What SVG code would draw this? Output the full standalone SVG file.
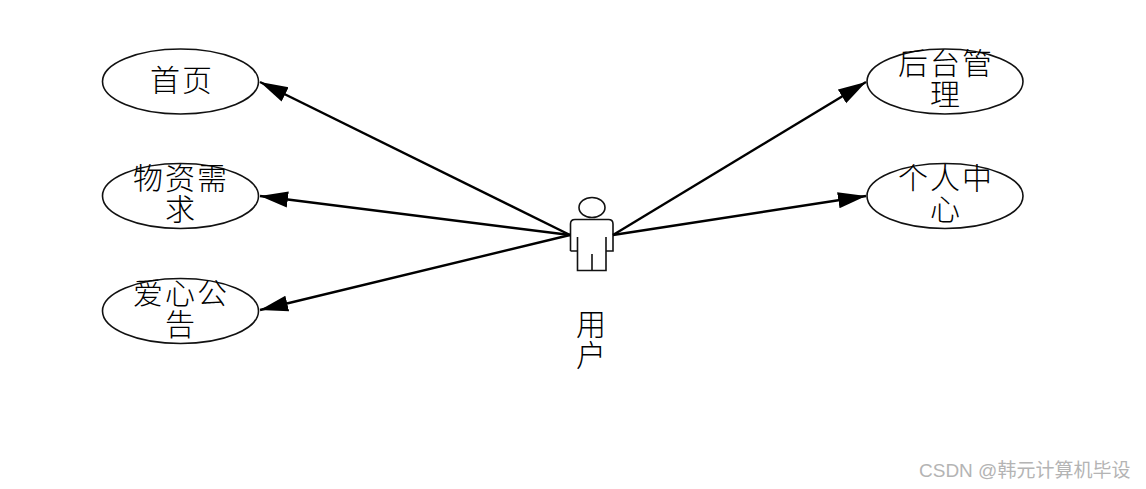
<svg xmlns="http://www.w3.org/2000/svg" width="1146" height="489" viewBox="0 0 1146 489">
<style>
.n{fill:#fff;stroke:#111;stroke-width:1.6}
.t{font-family:"Noto Sans CJK SC","Liberation Serif",sans-serif;font-size:30px;font-weight:300;fill:#000;text-anchor:middle;letter-spacing:2px}
.c{stroke:#000;stroke-width:2.4;fill:none;marker-end:url(#a)}
.w{font-family:"Liberation Sans","Noto Sans CJK SC",sans-serif;font-size:19px;fill:#b4b4b4}
.p{fill:none;stroke:#111;stroke-width:1.6}
</style>
<defs>
<marker id="a" markerUnits="userSpaceOnUse" markerWidth="30" markerHeight="18" refX="28" refY="8" orient="auto" viewBox="0 0 30 16"><path d="M0 0L28 8L0 16Z" fill="#000"/></marker>
</defs>
<g id="n1"><ellipse class="n" cx="180.500" cy="81.500" rx="78" ry="32.500"/><text class="t" x="182" y="91">首页</text></g>
<g id="n2"><ellipse class="n" cx="180.500" cy="196" rx="78" ry="32.500"/><text class="t" y="189"><tspan x="181">物资需</tspan><tspan x="181" dy="31">求</tspan></text></g>
<g id="n3"><ellipse class="n" cx="180.500" cy="311" rx="78" ry="32.500"/><text class="t" y="304"><tspan x="181">爱心公</tspan><tspan x="181" dy="31">告</tspan></text></g>
<g id="n4"><ellipse class="n" cx="945" cy="81.500" rx="78" ry="32.500"/><text class="t" y="74"><tspan x="946">后台管</tspan><tspan x="946" dy="31">理</tspan></text></g>
<g id="n5"><ellipse class="n" cx="945" cy="196" rx="78" ry="32.500"/><text class="t" y="189"><tspan x="946">个人中</tspan><tspan x="946" dy="31">心</tspan></text></g>
<g id="user">
<ellipse class="p" cx="592" cy="207.500" rx="13" ry="10"/>
<path class="p" d="M570.500 251V224Q570.500 219.500 575 219.500H608.500Q613 219.500 613 224V251H606V237M570.500 251H577.500V237M577.500 251V270.500H606V251M592 254V270.500"/>
<text class="t" y="335"><tspan x="592">用</tspan><tspan x="592" dy="31">户</tspan></text>
</g>
<g id="connectors">
<line class="c" x1="570" y1="235" x2="260" y2="82"/>
<line class="c" x1="570" y1="235" x2="260" y2="196"/>
<line class="c" x1="570" y1="235" x2="260" y2="310"/>
<line class="c" x1="613" y1="235" x2="866" y2="82"/>
<line class="c" x1="613" y1="235" x2="866" y2="196"/>
</g>
<text class="w" x="919" y="477">CSDN @韩元计算机毕设</text>
</svg>
